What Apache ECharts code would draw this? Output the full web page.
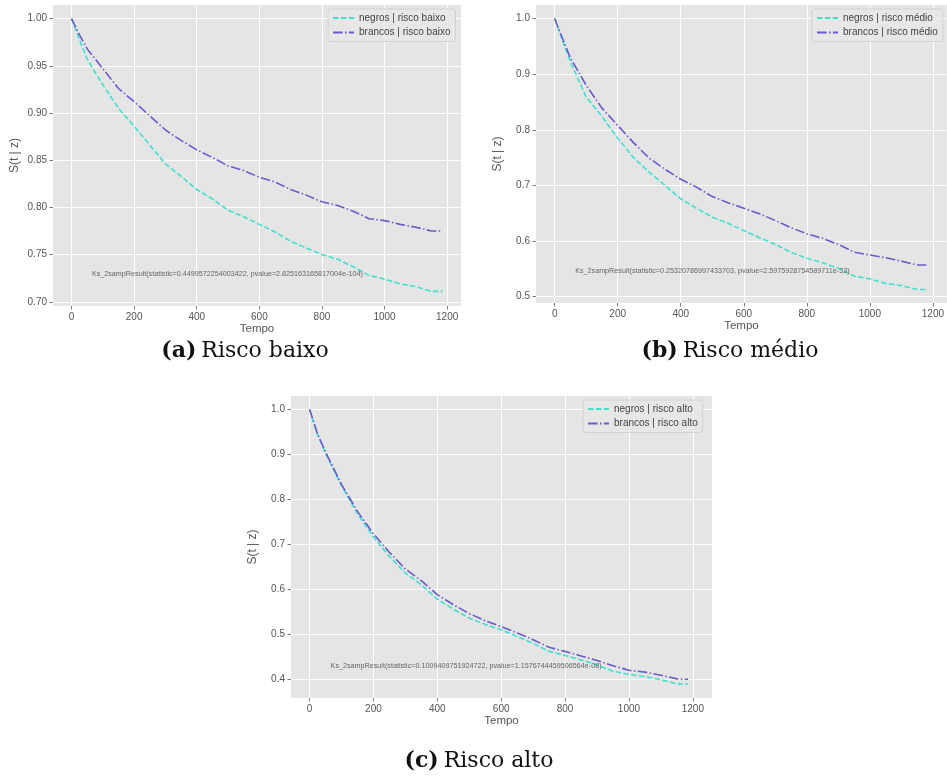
<!DOCTYPE html>
<html>
<head>
<meta charset="utf-8">
<script src="https://cdn.jsdelivr.net/npm/echarts@6/dist/echarts.min.js"></script>
<style>
  html, body { margin: 0; padding: 0; background: #ffffff; }
  #chart { width: 947px; height: 779px; }
</style>
</head>
<body>
<div id="chart"></div>
<script>
// Survival curves S(t | z) by group and risk level
const TEMPO = [0, 25, 50, 100, 150, 200, 250, 300, 350, 400, 450, 500, 550, 600,
               650, 700, 750, 800, 850, 900, 950, 1000, 1050, 1100, 1150, 1185];

// Risco baixo
const NEGROS_BAIXO = [1.0, 0.978, 0.957, 0.930, 0.905, 0.886, 0.866, 0.846, 0.833, 0.819,
                      0.809, 0.797, 0.790, 0.782, 0.774, 0.764, 0.757, 0.750, 0.745, 0.737,
                      0.728, 0.724, 0.719, 0.716, 0.711, 0.711];
const BRANCOS_BAIXO = [1.0, 0.983, 0.968, 0.947, 0.926, 0.912, 0.897, 0.882, 0.871, 0.861,
                       0.853, 0.844, 0.839, 0.832, 0.827, 0.819, 0.813, 0.806, 0.802, 0.796,
                       0.788, 0.786, 0.782, 0.779, 0.775, 0.775];
// Risco médio
const NEGROS_MEDIO = [1.0, 0.960, 0.922, 0.859, 0.824, 0.785, 0.750, 0.724, 0.700, 0.676,
                      0.659, 0.643, 0.632, 0.619, 0.606, 0.594, 0.580, 0.569, 0.561, 0.551,
                      0.537, 0.532, 0.524, 0.520, 0.513, 0.513];
const BRANCOS_MEDIO = [1.0, 0.964, 0.929, 0.880, 0.839, 0.808, 0.777, 0.749, 0.729, 0.711,
                       0.697, 0.680, 0.669, 0.659, 0.649, 0.637, 0.624, 0.613, 0.605, 0.594,
                       0.580, 0.575, 0.570, 0.564, 0.557, 0.557];
// Risco alto
const NEGROS_ALTO = [1.0, 0.944, 0.902, 0.830, 0.768, 0.716, 0.673, 0.636, 0.610, 0.578,
                     0.556, 0.536, 0.522, 0.510, 0.495, 0.480, 0.462, 0.453, 0.443, 0.432,
                     0.418, 0.411, 0.406, 0.399, 0.390, 0.389];
const BRANCOS_ALTO = [1.0, 0.945, 0.905, 0.833, 0.773, 0.723, 0.682, 0.645, 0.619, 0.588,
                      0.566, 0.546, 0.530, 0.517, 0.503, 0.488, 0.471, 0.462, 0.452, 0.442,
                      0.430, 0.420, 0.416, 0.409, 0.401, 0.400];

// Tick labels
const X_TICKS = [0, 200, 400, 600, 800, 1000, 1200];
const Y_TICKS_BAIXO = [0.70, 0.75, 0.80, 0.85, 0.90, 0.95, 1.00];
const Y_TICKS_MEDIO = [0.5, 0.6, 0.7, 0.8, 0.9, 1.0];
const Y_TICKS_ALTO = [0.4, 0.5, 0.6, 0.7, 0.8, 0.9, 1.0];

// Two-sample KS test results
const KS_BAIXO = 'Ks_2sampResult(statistic=0.4499572254003422, pvalue=2.825163165817004e-104)';
const KS_MEDIO = 'Ks_2sampResult(statistic=0.25320786997433703, pvalue=2.5975928754589711e-33)';
const KS_ALTO = 'Ks_2sampResult(statistic=0.1009409751924722, pvalue=1.1576744459506564e-08)';
const KS_POS_BAIXO = [65, 0.729];
const KS_POS_MEDIO = [65, 0.5454];
const KS_POS_ALTO = [66, 0.4295];

const LEGENDA = [
  ['negros | risco baixo', 'brancos | risco baixo'],
  ['negros | risco médio', 'brancos | risco médio'],
  ['negros | risco alto', 'brancos | risco alto']
];
const LEGENDAS_PAINEL = ['(a)', '(b)', '(c)'];
const TITULOS_PAINEL = ['Risco baixo', 'Risco médio', 'Risco alto'];

const COR_NEGROS = '#40E0D0';
const COR_BRANCOS = '#6A5ACD';
const FONT = '"Liberation Sans", Arial, sans-serif';
const SERIF = '"DejaVu Serif", "Liberation Serif", serif';
const TXT = '#555555';

const panels = [
  { grid: { left: 53, top: 5, width: 408, height: 301 }, x: [-59.25, 1244.25], y: [0.6955, 1.0145],
    yTicks: Y_TICKS_BAIXO, dec: 2, negros: NEGROS_BAIXO, brancos: BRANCOS_BAIXO,
    ks: KS_BAIXO, ksPos: KS_POS_BAIXO,
    legend: { left: 328, top: 9 }, caption: { x: 240, y: 346 } },
  { grid: { left: 536, top: 5, width: 414, height: 298 }, x: [-59.25, 1244.25], y: [0.4887, 1.0243],
    yTicks: Y_TICKS_MEDIO, dec: 1, negros: NEGROS_MEDIO, brancos: BRANCOS_MEDIO,
    ks: KS_MEDIO, ksPos: KS_POS_MEDIO,
    legend: { left: 812, top: 9 }, caption: { x: 725, y: 346 } },
  { grid: { left: 291, top: 396, width: 421, height: 302 }, x: [-58, 1260], y: [0.3585, 1.0292],
    yTicks: Y_TICKS_ALTO, dec: 1, negros: NEGROS_ALTO, brancos: BRANCOS_ALTO,
    ks: KS_ALTO, ksPos: KS_POS_ALTO,
    legend: { left: 583, top: 400 }, caption: { x: 474, y: 756 } }
];

const pairs = (ys) => TEMPO.map((t, i) => [t, ys[i]]);

const option = {
  animation: false,
  backgroundColor: '#ffffff',
  grid: [], xAxis: [], yAxis: [], series: [], legend: [], title: []
};

panels.forEach((p, k) => {
  option.grid.push(Object.assign({
    show: true, backgroundColor: '#E5E5E5', borderWidth: 0, containLabel: false
  }, p.grid));

  option.xAxis.push({
    type: 'value', gridIndex: k, min: p.x[0], max: p.x[1],
    name: 'Tempo', nameLocation: 'middle', nameGap: 17,
    nameTextStyle: { color: TXT, fontFamily: FONT, fontSize: 11.5 },
    axisLine: { show: false, onZero: false },
    axisTick: { show: true, inside: false, length: 3.5, lineStyle: { color: TXT, width: 0.8 }, customValues: X_TICKS },
    axisLabel: { color: TXT, fontFamily: FONT, fontSize: 10, margin: 6, customValues: X_TICKS,
                 formatter: (v) => String(v) },
    splitLine: { show: true, lineStyle: { color: '#ffffff', width: 1 } }
  });

  option.yAxis.push({
    type: 'value', gridIndex: k, min: p.y[0], max: p.y[1],
    name: 'S(t | z)', nameLocation: 'middle', nameGap: 32,
    nameTextStyle: { color: TXT, fontFamily: FONT, fontSize: 12 },
    axisLine: { show: false, onZero: false },
    axisTick: { show: true, inside: false, length: 3.5, lineStyle: { color: TXT, width: 0.8 }, customValues: p.yTicks },
    axisLabel: { color: TXT, fontFamily: FONT, fontSize: 10, margin: 6, customValues: p.yTicks,
                 formatter: (v) => Number(v).toFixed(p.dec) },
    splitLine: { show: true, lineStyle: { color: '#ffffff', width: 1 } }
  });

  option.series.push({
    type: 'line', name: LEGENDA[k][0], xAxisIndex: k, yAxisIndex: k,
    data: pairs(p.negros), symbol: 'none', showSymbol: false,
    lineStyle: { color: COR_NEGROS, width: 1.6, type: [5.5, 2.4] },
    itemStyle: { color: COR_NEGROS }, z: 3
  });
  option.series.push({
    type: 'line', name: LEGENDA[k][1], xAxisIndex: k, yAxisIndex: k,
    data: pairs(p.brancos), symbol: 'none', showSymbol: false,
    lineStyle: { color: COR_BRANCOS, width: 1.6, type: [9.6, 2.4, 1.5, 2.4] },
    itemStyle: { color: COR_BRANCOS }, z: 4
  });
  // KS test annotation
  option.series.push({
    type: 'scatter', xAxisIndex: k, yAxisIndex: k, symbolSize: 0, silent: true,
    data: [p.ksPos], z: 5,
    label: {
      show: true, position: 'inside', align: 'left', verticalAlign: 'middle',
      formatter: p.ks, color: '#444444', fontFamily: FONT, fontSize: 7.2
    }
  });

  option.legend.push({
    data: LEGENDA[k], orient: 'vertical', left: p.legend.left, top: p.legend.top,
    itemWidth: 21, itemHeight: 8, itemGap: 4.5, padding: [4, 5, 4, 4],
    backgroundColor: 'rgba(232,232,232,0.85)', borderColor: '#d2d2d2', borderWidth: 1, borderRadius: 3,
    itemStyle: { opacity: 0 },
    textStyle: { color: '#444444', fontFamily: FONT, fontSize: 10 },
    selectedMode: false
  });

  option.title.push({
    text: '{b|' + LEGENDAS_PAINEL[k] + '} {n|' + TITULOS_PAINEL[k] + '}',
    left: p.caption.x, top: p.caption.y, textAlign: 'center', textVerticalAlign: 'middle',
    textStyle: {
      fontWeight: 'normal',
      rich: {
        b: { fontFamily: SERIF, fontWeight: 'bold', fontSize: 22, color: '#111' },
        n: { fontFamily: SERIF, fontWeight: 'normal', fontSize: 22, color: '#111' }
      }
    }
  });
});

const chart = echarts.init(document.getElementById('chart'), null, { renderer: 'canvas' });
chart.setOption(option);
</script>
</body>
</html>
